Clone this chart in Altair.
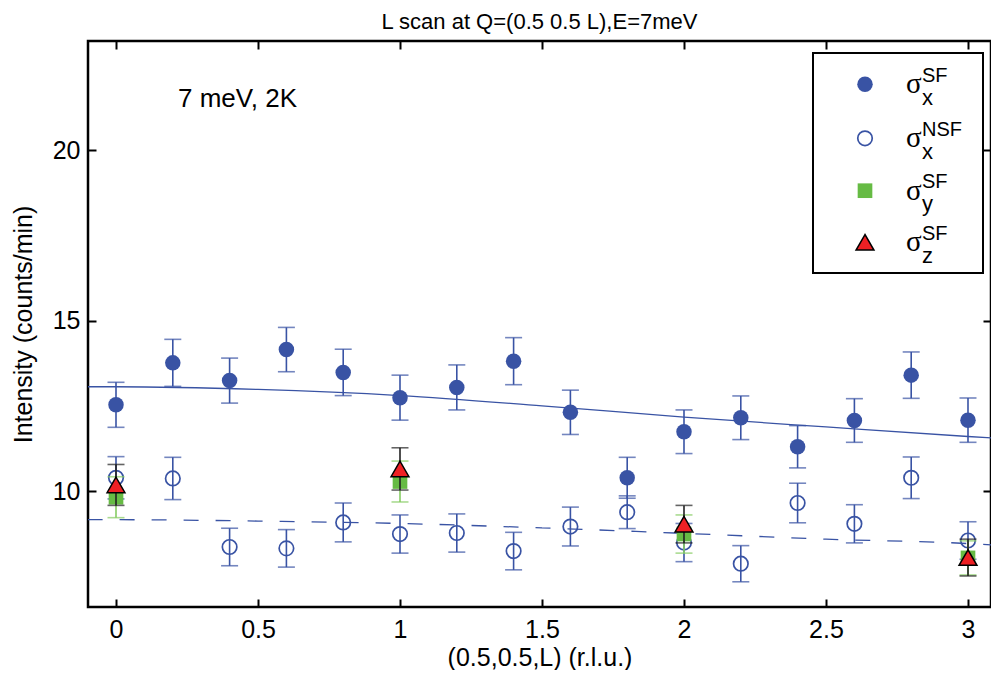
import altair as alt
import pandas as pd

# ---------------- data ----------------
L_x = [0.0, 0.2, 0.4, 0.6, 0.8, 1.0, 1.2, 1.4, 1.6, 1.8, 2.0, 2.2, 2.4, 2.6, 2.8, 3.0]
sf_x = [12.53, 13.76, 13.24, 14.15, 13.48, 12.74, 13.04, 13.81, 12.31, 10.39, 11.74, 12.15, 11.30, 12.07, 13.40, 12.08]
sf_x_err = [0.66, 0.69, 0.66, 0.65, 0.68, 0.66, 0.66, 0.69, 0.65, 0.60, 0.64, 0.64, 0.62, 0.64, 0.68, 0.65]
nsf_x = [10.39, 10.37, 8.36, 8.32, 9.08, 8.74, 8.77, 8.24, 8.96, 9.38, 8.49, 7.87, 9.65, 9.04, 10.39, 8.55]
nsf_x_err = [0.62, 0.62, 0.55, 0.55, 0.57, 0.56, 0.56, 0.55, 0.57, 0.48, 0.56, 0.53, 0.58, 0.56, 0.61, 0.55]

L_yz = [0.0, 1.0, 2.0, 3.0]
sf_y = [9.82, 10.28, 8.74, 8.04]
sf_y_err = [0.60, 0.60, 0.56, 0.50]
sf_z = [10.18, 10.65, 9.03, 8.05]
sf_z_err = [0.60, 0.62, 0.55, 0.54]

fit_L = [-0.1, 0.0, 0.5, 1.0, 1.5, 2.0, 2.5, 3.0, 3.1]
fit_sf = [13.06, 13.06, 12.98, 12.80, 12.50, 12.17, 11.88, 11.60, 11.55]
fit_nsf = [9.16, 9.16, 9.12, 9.05, 8.92, 8.76, 8.59, 8.46, 8.41]

x_ticks = [0, 0.5, 1, 1.5, 2, 2.5, 3]
y_ticks = [10, 15, 20]

legend_sup = ["SF", "NSF", "SF", "SF"]
legend_sub = ["x", "x", "y", "z"]

title_text = "L scan at Q=(0.5 0.5 L),E=7meV"
note_text = "7 meV, 2K"
x_title = "(0.5,0.5,L) (r.l.u.)"
y_title = "Intensity (counts/min)"

# ---------------- styling ----------------
FONT = "Liberation Sans"
BLUE = "#3953a4"
GREEN = "#66bb44"
GREEN_BAR = "#86cc63"
RED = "#ee2024"
DARK = "#222222"


def frame(L, v, e):
    df = pd.DataFrame({"L": L, "v": v, "e": e})
    df["lo"] = df["v"] - df["e"]
    df["hi"] = df["v"] + df["e"]
    return df


d_sfx = frame(L_x, sf_x, sf_x_err)
d_nsfx = frame(L_x, nsf_x, nsf_x_err)
d_sfy = frame(L_yz, sf_y, sf_y_err)
d_sfz = frame(L_yz, sf_z, sf_z_err)
d_fit = pd.DataFrame({"L": fit_L, "sf": fit_sf, "nsf": fit_nsf})

xs = alt.Scale(domain=[-0.0986, 3.081], nice=False, zero=False)
ys = alt.Scale(domain=[6.6, 23.2], nice=False, zero=False)

TICK = 8
common_axis = dict(domain=False, grid=False, offset=-TICK, tickSize=TICK, tickWidth=2,
                   tickColor="black", labelColor="black", titleColor="black",
                   labelFont=FONT, titleFont=FONT, labelFontSize=25, titleFontSize=25,
                   titleFontWeight="normal")

ax_bottom = alt.Axis(orient="bottom", values=x_ticks, format="~g", labelPadding=10,
                     title=x_title, titlePadding=3, labelFlush=False, **common_axis)
ax_left = alt.Axis(orient="left", values=y_ticks, format="~g", labelPadding=8,
                   title=y_title, titlePadding=16, **common_axis)
ax_top = alt.Axis(orient="top", values=x_ticks, labels=False, title=None, **common_axis)
ax_right = alt.Axis(orient="right", values=y_ticks, labels=False, title=None, **common_axis)


def X(field="L", axis=None):
    return alt.X(f"{field}:Q", scale=xs, axis=axis)


def Y(field, axis=None):
    return alt.Y(f"{field}:Q", scale=ys, axis=axis)


layers = []

# fitted curves (they also carry the axes)
layers.append(alt.Chart(d_fit).mark_line(color=BLUE, strokeWidth=1.3, interpolate="monotone", clip=True).encode(
    x=X("L", ax_bottom), y=Y("sf", ax_left)))
layers.append(alt.Chart(d_fit).mark_line(color=BLUE, strokeWidth=1.3, strokeDash=[15, 17],
                                         interpolate="monotone", clip=True).encode(
    x=X("L", ax_top), y=Y("nsf", ax_right)))


def errbars(df, color, width=1.6):
    rule = alt.Chart(df).mark_rule(color=color, strokeWidth=width).encode(
        x=X(), y=Y("lo"), y2="hi")
    cap_lo = alt.Chart(df).mark_tick(color=color, thickness=width, size=17, orient="horizontal").encode(
        x=X(), y=Y("lo"))
    cap_hi = alt.Chart(df).mark_tick(color=color, thickness=width, size=17, orient="horizontal").encode(
        x=X(), y=Y("hi"))
    return [rule, cap_lo, cap_hi]


# sigma_x SF (filled circles)
layers += errbars(d_sfx, BLUE)
layers.append(alt.Chart(d_sfx).mark_point(shape="circle", filled=True, size=240, color=BLUE, opacity=1).encode(
    x=X(), y=Y("v")))
# sigma_x NSF (open circles)
layers += errbars(d_nsfx, BLUE)
layers.append(alt.Chart(d_nsfx).mark_point(shape="circle", filled=False, size=210, color=BLUE,
                                           strokeWidth=1.7, opacity=1).encode(x=X(), y=Y("v")))
# sigma_y SF (green squares)
layers += errbars(d_sfy, GREEN_BAR)
layers.append(alt.Chart(d_sfy).mark_point(shape="square", filled=True, size=215, color=GREEN, opacity=1).encode(
    x=X(), y=Y("v")))
# sigma_z SF (red triangles)
layers += errbars(d_sfz, DARK)
layers.append(alt.Chart(d_sfz).mark_point(shape="triangle-up", filled=True, size=320, fill=RED,
                                          stroke="black", strokeWidth=1.5, opacity=1).encode(
    x=X(), y=Y("v")))

# annotation
one = pd.DataFrame({"t": [note_text]})
layers.append(alt.Chart(one).mark_text(font=FONT, fontSize=26, align="left", baseline="alphabetic",
                                       color="black").encode(
    x=alt.value(90), y=alt.value(66), text="t:N"))

# legend box
box = pd.DataFrame({"a": [0]})
layers.append(alt.Chart(box).mark_rect(fill="white", stroke="black", strokeWidth=2).encode(
    x=alt.value(725), x2=alt.value(895), y=alt.value(12), y2=alt.value(232)))

row_y = [43.3, 97.3, 149.7, 201.3]
sym_x = 777
sym_specs = [
    dict(shape="circle", filled=True, size=240, color=BLUE),
    dict(shape="circle", filled=False, size=210, color=BLUE, strokeWidth=1.7),
    dict(shape="square", filled=True, size=215, color=GREEN),
    dict(shape="triangle-up", filled=True, size=320, fill=RED, stroke="black", strokeWidth=1.5),
]
for i, yc in enumerate(row_y):
    layers.append(alt.Chart(box).mark_point(opacity=1, **sym_specs[i]).encode(
        x=alt.value(sym_x), y=alt.value(yc)))
    lab = pd.DataFrame({"s": ["σ"], "sup": [legend_sup[i]], "sub": [legend_sub[i]]})
    layers.append(alt.Chart(lab).mark_text(font="Liberation Serif", fontSize=29, align="left",
                                           baseline="alphabetic", color="black").encode(
        x=alt.value(818), y=alt.value(yc + 9), text="s:N"))
    layers.append(alt.Chart(lab).mark_text(font=FONT, fontSize=20, align="left",
                                           baseline="alphabetic", color="black").encode(
        x=alt.value(834), y=alt.value(yc - 2.5), text="sup:N"))
    layers.append(alt.Chart(lab).mark_text(font=FONT, fontSize=22, align="left",
                                           baseline="alphabetic", color="black").encode(
        x=alt.value(834), y=alt.value(yc + 20.7), text="sub:N"))

chart = alt.layer(*layers).resolve_axis(x="independent", y="independent").properties(
    width=903, height=566,
    title=alt.TitleParams(title_text, font=FONT, fontSize=22, fontWeight="normal", color="black",
                          anchor="middle", offset=6),
    padding={"left": 80, "top": 33, "right": 0, "bottom": 63},
    autosize=alt.AutoSizeParams(type="none"),
).configure(
    background="white",
    view=alt.ViewConfig(stroke="black", strokeWidth=2.5),
)

chart.save("out.html", embed_options={"renderer": "svg", "actions": False})
